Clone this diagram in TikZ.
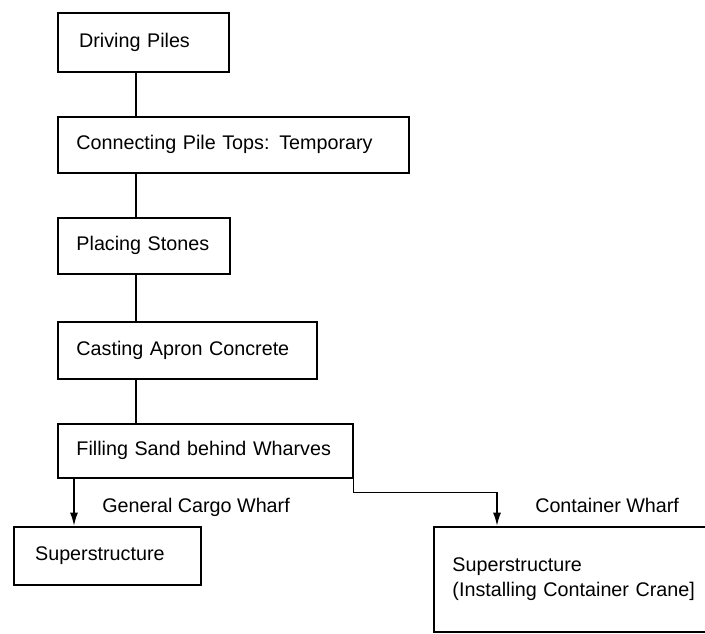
\documentclass[tikz,border=0pt]{standalone}
\usepackage{fontspec}
\setmainfont{Liberation Sans}
\usetikzlibrary{arrows.meta}

\begin{document}
\begin{tikzpicture}[x=0.75pt,y=-0.75pt,font=\fontsize{14.8}{18.7}\selectfont,
    stepbox/.style={draw, line width=1.2pt, rectangle, inner xsep=14pt, inner ysep=0pt, align=left, anchor=north west},
    link/.style={line width=1.3pt},
    tip/.style={-{Latex[length=10pt,width=6pt]}}]
    \useasboundingbox (0,0) rectangle (705,633);
    % process steps
    \node[stepbox, inner xsep=16pt, text width=96.25pt, minimum height=44.25pt] (drive) at (57,12) {Driving Piles};
    \node[stepbox, text width=235.25pt, minimum height=42pt] (conn) at (57,116) {Connecting Pile Tops: Temporary};
    \node[stepbox, text width=101pt, minimum height=42pt] (stone) at (57,217) {Placing Stones};
    \node[stepbox, text width=166.25pt, minimum height=42.75pt] (cast) at (57,321) {Casting Apron Concrete};
    \node[stepbox, text width=193.25pt, minimum height=40.5pt] (fill) at (57,423) {Filling Sand behind Wharves};
    \node[stepbox, inner xsep=16pt, text width=108.25pt, minimum height=43.5pt] (sup) at (13,526) {Superstructure};
    \node[stepbox, text width=197pt, minimum height=78.75pt] (cont) at (433,526) {Superstructure\\(Installing Container Crane]};
    % branch labels
    \node[anchor=base west, inner sep=0pt] (gcw) at (102,512) {General Cargo Wharf};
    \node[anchor=base west, inner sep=0pt] (cwl) at (535,512) {Container Wharf};
    % connectors
    \coordinate (spine) at (136,0);
    \coordinate (gen) at (74,0);
    \coordinate (cw) at (497,0);
    \foreach \a/\b in {drive/conn,conn/stone,stone/cast,cast/fill}
        \draw[link] (\a.south -| spine) -- (\b.north -| spine);
    \draw[link,tip] (fill.south -| gen) -- (sup.north -| gen);
    \draw[link,tip] (fill.south east) -- ++(0,14) -| (cont.north -| cw);
\end{tikzpicture}
\end{document}
